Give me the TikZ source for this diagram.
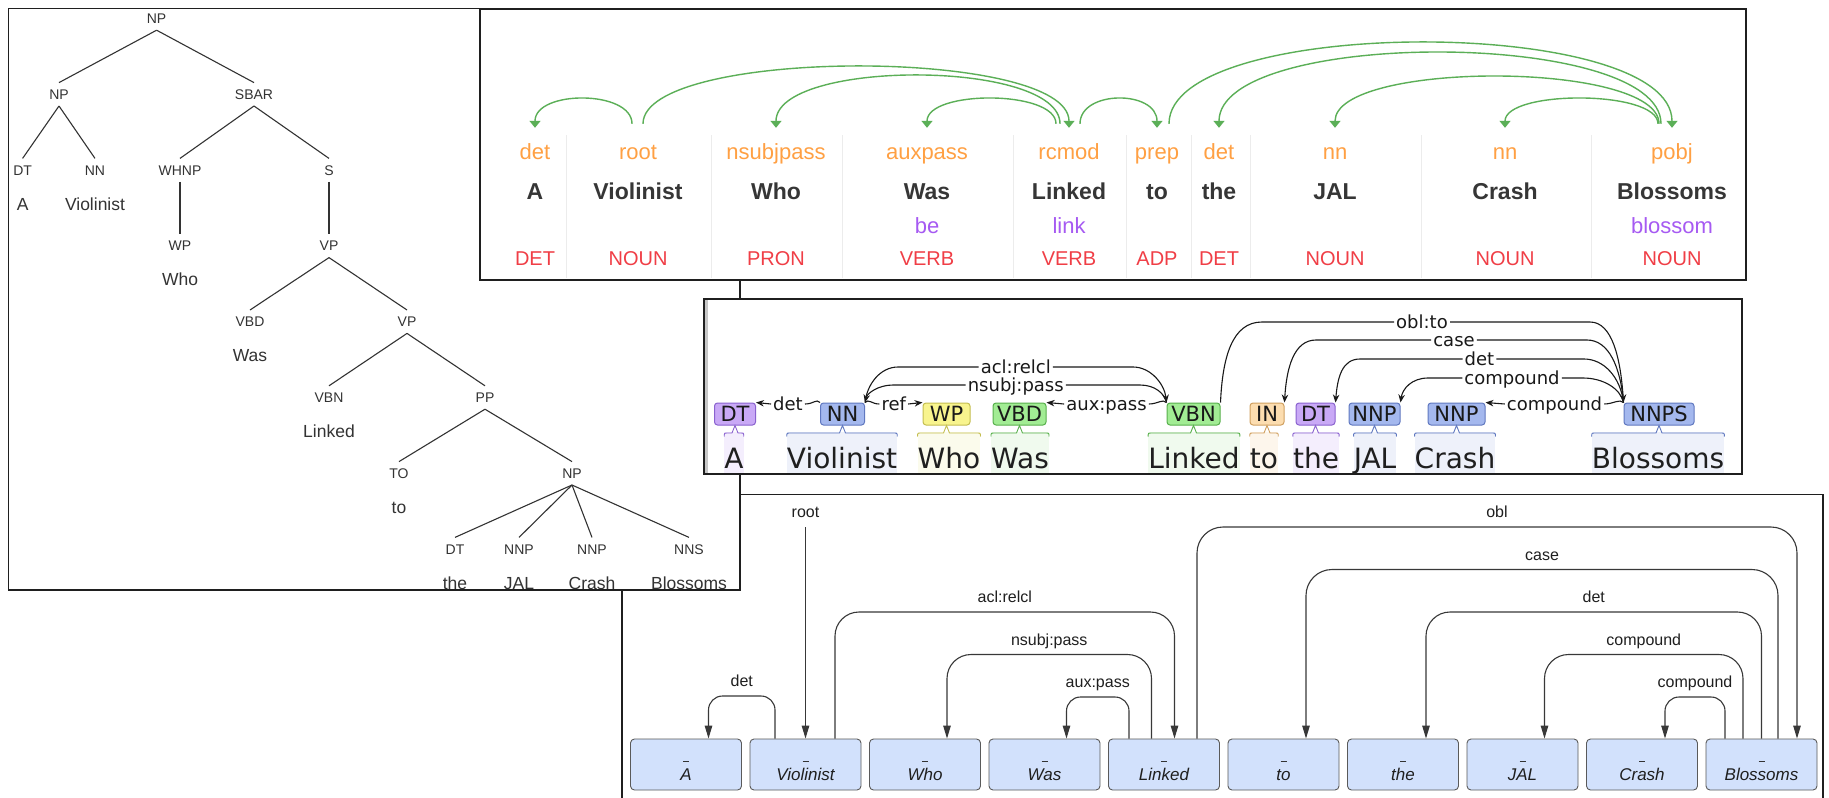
\documentclass[tikz,border=0pt]{standalone}
\usepackage{fontspec}
\setmainfont{Liberation Sans}
\newfontfamily\djv{DejaVu Sans}
\usetikzlibrary{arrows.meta,calc}

\definecolor{ink}{HTML}{333333}
\definecolor{spink}{HTML}{363636}
\definecolor{spgreen}{HTML}{5BAF57}
\definecolor{sporange}{HTML}{FFA043}
\definecolor{spred}{HTML}{F03E46}
\definecolor{sppurple}{HTML}{A65AF2}
\definecolor{spsep}{HTML}{ECECEC}
\definecolor{dtfill}{HTML}{C9A9F6}\definecolor{dtline}{HTML}{8A62CF}\definecolor{dtbg}{HTML}{F4EEFD}
\definecolor{nnfill}{HTML}{A4B8EE}\definecolor{nnline}{HTML}{6078C0}\definecolor{nnbg}{HTML}{EEF1FA}
\definecolor{wpfill}{HTML}{F8F48E}\definecolor{wpline}{HTML}{C4BE50}\definecolor{wpbg}{HTML}{FBFBEC}
\definecolor{vbfill}{HTML}{A2EC94}\definecolor{vbline}{HTML}{58B04C}\definecolor{vbbg}{HTML}{F0FAEE}
\definecolor{infill}{HTML}{FCDDB0}\definecolor{inedge}{HTML}{D0A060}\definecolor{inbg}{HTML}{FDF6EC}
\definecolor{boxfill}{HTML}{D2E1FC}
\definecolor{boxline}{HTML}{5A5A5A}

\tikzset{
  panel/.style={draw=black!88, line width=1.6pt, fill=white},
  treetag/.style={font=\fontsize{14}{16}\selectfont, text=ink, inner sep=0pt,
    minimum height=23pt, text height=10pt, text depth=0pt},
  treeword/.style={font=\fontsize{17.5}{20}\selectfont, text=ink, anchor=base, inner sep=0pt},
  treeedge/.style={draw=ink, line width=1.1pt},
  spdep/.style={font=\fontsize{22}{24}\selectfont, text=sporange, anchor=base,
    inner xsep=0pt, inner ysep=15.5pt, text height=16pt, text depth=5pt},
  spword/.style={font=\bfseries\fontsize{23}{26}\selectfont, text=spink, anchor=base, inner sep=0pt},
  splemma/.style={font=\fontsize{22}{24}\selectfont, text=sppurple, anchor=base, inner sep=0pt},
  sppos/.style={font=\fontsize{20}{22}\selectfont, text=spred, anchor=base, inner sep=0pt},
  sparc/.style={draw=spgreen, line width=1.4pt, -{Triangle[length=7pt,width=11pt]}},
  brattag/.style={font=\djv\fontsize{21}{23}\selectfont, rounded corners=3pt,
    minimum height=22pt, inner xsep=2pt, inner ysep=0pt, text height=15.3pt,
    text depth=0pt, line width=1pt, text=black!90},
  bratword/.style={font=\djv\fontsize{28}{30}\selectfont, text=black!88, anchor=base,
    inner sep=0pt, text height=36pt, text depth=5pt},
  bratlab/.style={font=\djv\fontsize{18}{20}\selectfont, text=black!90, inner xsep=2pt,
    inner ysep=0pt, text height=13pt, text depth=0pt},
  bratarc/.style={draw=black!90, line width=1.1pt},
  bratarrow/.style={-{Stealth[length=8pt,width=6.5pt]}},
  corebox/.style={font=\itshape\fontsize{17}{20}\selectfont, draw=boxline, fill=boxfill,
    rounded corners=4pt, minimum width=111pt, minimum height=51pt, inner sep=0pt,
    text height=31pt, text depth=0pt, line width=0.9pt, text=black!88},
  corelab/.style={font=\fontsize{16}{18}\selectfont, text=black!88, anchor=south,
    inner xsep=0pt, inner ysep=9pt, text depth=0pt},
  corearc/.style={draw=black!78, line width=1.1pt, -{Triangle[length=13pt,width=7.5pt]}},
}

\begin{document}
\begin{tikzpicture}[x=1pt,y=-1pt]
\useasboundingbox (0,0) rectangle (1829,798);

% ---------- enhanced dependency view (bottom right) ----------
\fill[white] (622,494.5) rectangle (1823,800);
\draw[draw=black!88, line width=1.5pt] (622,800) -- (622,494.5) -- (1823,494.5) -- (1823,800);

\foreach \cx/\wrd [count=\k] in {686/A, 805.5/Violinist, 925/Who, 1044.5/Was, 1164/Linked,
    1283.5/to, 1403/the, 1522.5/JAL, 1642/Crash, 1761.5/Blossoms} {
  \node[corebox] (c\k) at (\cx,764.5) {\wrd};
  \draw[black!80, line width=0.9pt] ([xshift=-3pt,yshift=3.5pt]c\k.center) -- ([xshift=3pt,yshift=3.5pt]c\k.center);
}

\node[corelab] (l-root) at (805.5,527) {root};
\node[corelab] (l-det1) at (741.75,696) {det};
\node[corelab] (l-acl) at (1004.75,612) {acl:relcl};
\node[corelab] (l-nsubj) at (1049.25,654.5) {nsubj:pass};
\node[corelab] (l-aux) at (1097.75,697) {aux:pass};
\node[corelab] (l-obl) at (1497,527) {obl};
\node[corelab] (l-case) at (1542,569.5) {case};
\node[corelab] (l-det2) at (1593.75,612) {det};
\node[corelab] (l-cmp1) at (1643.75,654.5) {compound};
\node[corelab] (l-cmp2) at (1695,697) {compound};

\draw[corearc] (l-root.south) -- (c2.north);
\draw[corearc, rounded corners=14pt] ([xshift=-30.5pt]c2.north) |- (l-det1.south) -| ([xshift=22.5pt]c1.north);
\draw[corearc, rounded corners=24pt] ([xshift=29.5pt]c2.north) |- (l-acl.south) -| ([xshift=10.5pt]c5.north);
\draw[corearc, rounded corners=24pt] ([xshift=-12.5pt]c5.north) |- (l-nsubj.south) -| ([xshift=22pt]c3.north);
\draw[corearc, rounded corners=14pt] ([xshift=-35pt]c5.north) |- (l-aux.south) -| ([xshift=22pt]c4.north);
\draw[corearc, rounded corners=26pt] ([xshift=33pt]c5.north) |- (l-obl.south) -| ([xshift=35.5pt]c10.north);
\draw[corearc, rounded corners=26pt] ([xshift=16.5pt]c10.north) |- (l-case.south) -| ([xshift=22.5pt]c6.north);
\draw[corearc, rounded corners=24pt] (c10.north) |- (l-det2.south) -| ([xshift=23pt]c7.north);
\draw[corearc, rounded corners=24pt] ([xshift=-18.5pt]c10.north) |- (l-cmp1.south) -| ([xshift=22pt]c8.north);
\draw[corearc, rounded corners=14pt] ([xshift=-36.5pt]c10.north) |- (l-cmp2.south) -| ([xshift=23pt]c9.north);

% ---------- constituency tree (left) ----------
\draw[panel, line width=1.5pt] (8.5,8.5) rectangle (740,590);

\node[treetag] (t0) at (156.6,18.5) {NP};
\node[treetag] (t1) at (59,94.3) {NP};
\node[treetag] (t2) at (254,94.3) {SBAR};
\node[treetag] (t3) at (22.6,170.1) {DT};
\node[treetag] (t4) at (95,170.1) {NN};
\node[treetag] (t5) at (180,170.1) {WHNP};
\node[treetag] (t6) at (329,170.1) {S};
\node[treetag] (t7) at (180,245.9) {WP};
\node[treetag] (t8) at (329,245.9) {VP};
\node[treetag] (t9) at (250,321.7) {VBD};
\node[treetag] (t10) at (407,321.7) {VP};
\node[treetag] (t11) at (329,397.5) {VBN};
\node[treetag] (t12) at (485,397.5) {PP};
\node[treetag] (t13) at (399,473.3) {TO};
\node[treetag] (t14) at (572,473.3) {NP};
\node[treetag] (t15) at (455,549.1) {DT};
\node[treetag] (t16) at (519,549.1) {NNP};
\node[treetag] (t17) at (592,549.1) {NNP};
\node[treetag] (t18) at (689,549.1) {NNS};

\node[treeword] (tw1) at (22.6,210) {A};
\node[treeword] (tw2) at (95,210) {Violinist};
\node[treeword] (tw3) at (180,285.8) {Who};
\node[treeword] (tw4) at (250,361.6) {Was};
\node[treeword] (tw5) at (329,437.4) {Linked};
\node[treeword] (tw6) at (399,513.2) {to};
\node[treeword] (tw7) at (455,589) {the};
\node[treeword] (tw8) at (519,589) {JAL};
\node[treeword] (tw9) at (592,589) {Crash};
\node[treeword] (tw10) at (689,589) {Blossoms};

\foreach \pa/\ch in {t0/t1, t0/t2, t1/t3, t1/t4, t2/t5, t2/t6, t5/t7, t6/t8, t8/t9, t8/t10,
    t10/t11, t10/t12, t12/t13, t12/t14, t14/t15, t14/t16, t14/t17, t14/t18}
  \draw[treeedge] (\pa.south) -- (\ch.north);

% ---------- basic dependency view (top) ----------
\draw[panel, line width=2pt] (480,8.5) rectangle (1746,279.5);

\foreach \sx in {566,711,842,1013.5,1126.5,1191,1250,1421.5,1591}
  \draw[spsep, line width=1pt] (\sx,135) -- (\sx,278);

\foreach \cx/\dep/\wrd/\ps [count=\k] in {535/det/A/DET, 638/root/Violinist/NOUN,
    776/nsubjpass/Who/PRON, 927/auxpass/Was/VERB, 1069/rcmod/Linked/VERB,
    1157/prep/to/ADP, 1219/det/the/DET, 1335/nn/JAL/NOUN, 1505/nn/Crash/NOUN,
    1672/pobj/Blossoms/NOUN} {
  \node[spdep] (sd\k) at (\cx,159.5) {\dep};
  \node[spword] (sw\k) at (\cx,199.3) {\wrd};
  \node[sppos] (sp\k) at (\cx,265) {\ps};
}
\node[splemma] (sl4) at (927,233.3) {be};
\node[splemma] (sl5) at (1069,233.3) {link};
\node[splemma] (sl10) at (1672,233.3) {blossom};

\draw[sparc] ([xshift=-6pt,yshift=4pt]sd2.north) .. controls +(0,-34) and +(0,-38) .. (sd1.north);
\draw[sparc] ([xshift=5pt,yshift=4pt]sd2.north) .. controls +(0,-76.7) and +(0,-80.7) .. (sd5.north);
\draw[sparc] ([xshift=-9pt,yshift=4pt]sd5.north) .. controls +(0,-64.7) and +(0,-68.7) .. (sd3.north);
\draw[sparc] ([xshift=-13pt,yshift=4pt]sd5.north) .. controls +(0,-34) and +(0,-38) .. (sd4.north);
\draw[sparc] ([xshift=11pt,yshift=4pt]sd5.north) .. controls +(0,-34) and +(0,-38) .. (sd6.north);
\draw[sparc] ([xshift=12pt,yshift=4pt]sd6.north) .. controls +(0,-108.7) and +(0,-112.7) .. (sd10.north);
\draw[sparc] ([xshift=-11pt,yshift=4pt]sd10.north) .. controls +(0,-95.3) and +(0,-99.3) .. (sd7.north);
\draw[sparc] ([xshift=-13pt,yshift=4pt]sd10.north) .. controls +(0,-63.3) and +(0,-67.3) .. (sd8.north);
\draw[sparc] ([xshift=-14pt,yshift=4pt]sd10.north) .. controls +(0,-34) and +(0,-38) .. (sd9.north);

% ---------- annotated tags view (middle) ----------
\draw[panel, line width=2pt] (703.5,299) rectangle (1741.5,473.5);
\fill[black!22] (704.5,300) rectangle (708,472.5);

\foreach \i/\wx/\wrd/\tx/\tg/\tw/\fc/\lc/\bg in {
    1/734/A/735/DT/41/dtfill/dtline/dtbg,
    2/842/Violinist/842.5/NN/44/nnfill/nnline/nnbg,
    3/949/Who/946.5/WP/47/wpfill/wpline/wpbg,
    4/1020/Was/1019.5/VBD/53/vbfill/vbline/vbbg,
    5/1194/Linked/1193.5/VBN/53/vbfill/vbline/vbbg,
    6/1264/to/1267/IN/34/infill/inedge/inbg,
    7/1316/the/1315.5/DT/39/dtfill/dtline/dtbg,
    8/1375/JAL/1374.5/NNP/51/nnfill/nnline/nnbg,
    9/1455/Crash/1456.5/NNP/57/nnfill/nnline/nnbg,
    10/1658/Blossoms/1659/NNPS/70/nnfill/nnline/nnbg} {
  \node[bratword, fill=\bg] (bw\i) at (\wx,468) {\wrd};
  \node[brattag, fill=\fc, draw=\lc, minimum width=\tw pt] (b\i) at (\tx,414) {\tg};
  \draw[\lc, line width=0.9pt] let \p1=(bw\i.west), \p2=(bw\i.east), \p3=(b\i.south) in
    (\x1,{\y3-11pt}) .. controls (\x1,{\y3-7.5pt}) .. ({\x1+4pt},{\y3-7.5pt})
    -- ({\x3-3pt},{\y3-7.5pt}) -- (\x3,\y3) -- ({\x3+3pt},{\y3-7.5pt})
    -- ({\x2-4pt},{\y3-7.5pt}) .. controls (\x2,{\y3-7.5pt}) .. (\x2,{\y3-11pt});
}

% arcs lying on the tag row
\node[bratlab] (r-det) at (788,404) {det};
\draw[bratarc,bratarrow] (r-det.west) -- (b1.north east);
\draw[bratarc] (r-det.east) .. controls +(9,0) and +(-4,-4) .. (b2.north west);

\node[bratlab] (r-ref) at (893.75,404) {ref};
\draw[bratarc] (r-ref.west) .. controls +(-8,0) and +(4,-4) .. (b2.north east);
\draw[bratarc,bratarrow] (r-ref.east) -- (b3.north west);

\node[bratlab] (r-aux) at (1106.5,404) {aux:pass};
\draw[bratarc,bratarrow] (r-aux.west) -- (b4.north east);
\draw[bratarc] (r-aux.east) .. controls +(9,0) and +(-4,-4) .. (b5.north west);

\node[bratlab] (r-cmp2) at (1554.5,404) {compound};
\draw[bratarc,bratarrow] (r-cmp2.west) -- (b9.north east);
\draw[bratarc] (r-cmp2.east) .. controls +(9,0) and +(-4,-4) .. (b10.north west);

% raised arcs
\node[bratlab] (r-acl) at (1015.75,367) {acl:relcl};
\draw[bratarc] (r-acl.west) -- (898,367) .. controls +(-18,0) and +(2,-18) .. (b2.north east);
\draw[bratarc,bratarrow] (r-acl.east) -- (1133,367) .. controls +(18,0) and +(-2,-18) .. (b5.north west);

\node[bratlab] (r-nsp) at (1015.75,385) {nsubj:pass};
\draw[bratarc,bratarrow] (r-nsp.west) -- (893,385) .. controls +(-15,0) and +(2,-9) .. (b2.north east);
\draw[bratarc] (r-nsp.east) -- (1140,385) .. controls +(15,0) and +(-2,-9) .. (b5.north west);

\node[bratlab] (r-obl) at (1422,322) {obl:to};
\draw[bratarc] (r-obl.west) -- (1262,322) .. controls +(-30,0) and +(2,-45) .. (b5.north east);
\draw[bratarc,bratarrow] (r-obl.east) -- (1590,322) .. controls +(22,0) and +(-3,-45) .. (b10.north west);

\node[bratlab] (r-case) at (1454,340) {case};
\draw[bratarc,bratarrow] (r-case.west) -- (1316,340) .. controls +(-22,0) and +(2,-35) .. (b6.north east);
\draw[bratarc] (r-case.east) -- (1587,340) .. controls +(22,0) and +(-3,-35) .. (b10.north west);

\node[bratlab] (r-det2) at (1479.5,359) {det};
\draw[bratarc,bratarrow] (r-det2.west) -- (1360,359) .. controls +(-18,0) and +(2,-25) .. (b7.north east);
\draw[bratarc] (r-det2.east) -- (1584,359) .. controls +(20,0) and +(-3,-25) .. (b10.north west);

\node[bratlab] (r-cmp1) at (1512,378) {compound};
\draw[bratarc,bratarrow] (r-cmp1.west) -- (1428,378) .. controls +(-16,0) and +(2,-14) .. (b8.north east);
\draw[bratarc] (r-cmp1.east) -- (1583,378) .. controls +(20,0) and +(-3,-14) .. (b10.north west);

\end{tikzpicture}
\end{document}
